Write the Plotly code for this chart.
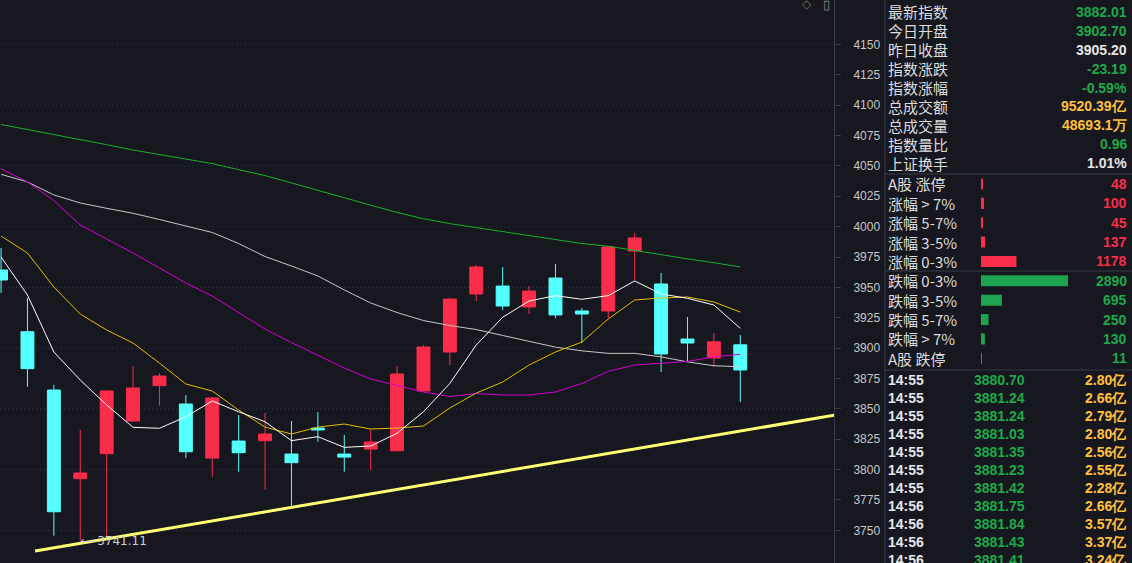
import plotly.graph_objects as go

# ---- candle data (index points, one per bar) ----
idx = list(range(29))
open_ = [3964.3, 3913.5, 3865.5, 3792.5, 3813.1, 3840.0, 3869.1, 3854.0, 3809.5, 3823.5,
         3823.8, 3812.8, 3834.2, 3812.8, 3816.9, 3815.5, 3864.7, 3896.8, 3944.6, 3951.1,
         3933.9, 3957.7, 3930.6, 3930.6, 3980.0, 3952.8, 3907.5, 3891.9, 3902.70]
high = [3982.4, 3941.3, 3869.6, 3832.6, 3865.5, 3885.3, 3879.3, 3861.4, 3859.5, 3844.9,
        3846.6, 3840.0, 3847.4, 3828.5, 3833.2, 3885.3, 3902.6, 3941.5, 3968.4, 3966.8,
        3951.1, 3969.3, 3933.0, 3983.7, 3994.8, 3961.9, 3925.6, 3912.4, 3910.8]
low = [3945.4, 3868.2, 3745.5, 3741.11, 3744.7, 3839.5, 3852.6, 3809.5, 3794.1, 3798.2,
       3783.4, 3768.9, 3822.9, 3798.2, 3799.9, 3815.0, 3864.5, 3886.1, 3938.8, 3931.4,
       3928.1, 3924.8, 3904.2, 3924.8, 3956.1, 3880.3, 3889.4, 3884.5, 3855.6]
close = [3956.1, 3883.1, 3765.3, 3797.2, 3864.7, 3867.2, 3877.0, 3814.7, 3858.9, 3813.9,
         3829.3, 3805.7, 3832.6, 3810.3, 3822.7, 3878.7, 3900.9, 3940.4, 3966.8, 3934.7,
         3947.0, 3927.3, 3928.1, 3983.3, 3990.7, 3895.2, 3904.2, 3905.20, 3882.01]

ma5 = [3975.0, 3943.7, 3896.8, 3873.7, 3853.2, 3834.8, 3834.0, 3843.5, 3856.5, 3847.6,
       3839.4, 3823.8, 3827.1, 3818.3, 3819.4, 3829.9, 3847.6, 3871.0, 3902.6, 3925.4,
       3938.8, 3943.2, 3940.2, 3943.2, 3955.3, 3944.6, 3941.0, 3935.5, 3916.3]
ma10 = [3992.3, 3978.3, 3950.3, 3928.1, 3914.9, 3904.2, 3887.7, 3870.5, 3864.7, 3849.0,
        3835.0, 3829.3, 3835.0, 3837.5, 3833.4, 3834.2, 3835.9, 3850.7, 3863.0, 3872.1,
        3886.1, 3896.8, 3905.0, 3924.0, 3939.6, 3941.3, 3942.1, 3938.0, 3929.7]
ma20 = [4047.7, 4036.8, 4021.5, 4001.4, 3989.8, 3978.3, 3966.0, 3953.6, 3942.9, 3929.3,
        3915.7, 3904.6, 3893.9, 3883.6, 3874.6, 3869.2, 3863.9, 3860.2, 3862.6, 3861.4,
        3861.4, 3863.9, 3870.9, 3880.9, 3886.1, 3887.5, 3889.0, 3892.9, 3894.9]
ma30 = [4043.1, 4036.8, 4026.1, 4019.5, 4015.1, 4011.0, 4005.9, 4000.7, 3995.2, 3986.1,
        3975.4, 3967.6, 3959.4, 3947.9, 3937.2, 3929.3, 3922.7, 3918.6, 3915.3, 3910.4,
        3905.5, 3900.8, 3897.8, 3895.7, 3895.7, 3892.8, 3888.7, 3885.5, 3884.7]
ma60 = [4084.1, 4080.1, 4076.1, 4071.9, 4067.5, 4063.1, 4059.5, 4056.0, 4051.9, 4046.9,
        4042.1, 4036.0, 4029.7, 4023.6, 4017.7, 4011.7, 4006.5, 4002.5, 3999.2, 3996.2,
        3993.2, 3989.7, 3986.1, 3983.9, 3980.4, 3976.4, 3973.5, 3970.3, 3966.8]

trend_x = [1.29, 31.6]
trend_y = [3733.0, 3845.0]
low_mark = 3741.11
low_mark_idx = 3

y_ticks = [3750, 3775, 3800, 3825, 3850, 3875, 3900, 3925, 3950, 3975,
           4000, 4025, 4050, 4075, 4100, 4125, 4150]
grid_levels = [3750, 3800, 3850, 3900, 3950, 4000, 4050, 4100, 4150]

# ---- right side panel ----
quote_labels = ["最新指数", "今日开盘", "昨日收盘", "指数涨跌", "指数涨幅",
                "总成交额", "总成交量", "指数量比", "上证换手"]
quote_values = ["3882.01", "3902.70", "3905.20", "-23.19", "-0.59%",
                "9520.39亿", "48693.1万", "0.96", "1.01%"]
quote_tone = ["down", "down", "flat", "down", "down", "amt", "amt", "down", "flat"]

breadth_labels = ["A股 涨停", "涨幅 > 7%", "涨幅 5-7%", "涨幅 3-5%", "涨幅 0-3%",
                  "跌幅 0-3%", "跌幅 3-5%", "跌幅 5-7%", "跌幅 > 7%", "A股 跌停"]
breadth_counts = [48, 100, 45, 137, 1178, 2890, 695, 250, 130, 11]
breadth_side = ["up"] * 5 + ["down"] * 5

tick_times = ["14:55"] * 7 + ["14:56"] * 4
tick_prices = [3880.70, 3881.24, 3881.24, 3881.03, 3881.35, 3881.23,
               3881.42, 3881.75, 3881.84, 3881.43, 3881.41]
tick_amounts = [2.80, 2.66, 2.79, 2.80, 2.56, 2.55, 2.28, 2.66, 3.57, 3.37, 3.24]

BG = '#17171f'
RED = '#fa2d4b'
CYAN = '#54ffff'
GREEN_TXT = '#1fa84a'
ORANGE = '#ffc03f'
WHITE_TXT = '#e6e6e6'
LABEL = '#dcdcdc'
LINE = '#363a46'
W, H = 1132, 563
tone_color = {"down": GREEN_TXT, "up": RED, "flat": WHITE_TXT, "amt": ORANGE}

fig = go.Figure()

fig.add_trace(go.Candlestick(
    x=idx, open=open_, high=high, low=low, close=close,
    increasing=dict(line=dict(color=RED, width=1), fillcolor=RED),
    decreasing=dict(line=dict(color=CYAN, width=1), fillcolor=CYAN),
    whiskerwidth=0, hoverinfo='skip', showlegend=False))

for series, col in [(ma60, '#19b02e'), (ma30, '#c8c8c8'), (ma20, '#d400d4'),
                    (ma10, '#e3c000'), (ma5, '#ffffff')]:
    fig.add_trace(go.Scatter(x=idx, y=series, mode='lines',
                             line=dict(color=col, width=1), hoverinfo='skip',
                             showlegend=False))

fig.add_trace(go.Scatter(x=trend_x, y=trend_y, mode='lines',
                         line=dict(color='#ffff73', width=3),
                         hoverinfo='skip', showlegend=False))

# breadth bars
fig.add_trace(go.Bar(
    x=breadth_counts, y=breadth_labels, orientation='h',
    marker=dict(color=[RED if s == "up" else '#1ea350' for s in breadth_side], line=dict(width=0)),
    width=0.57, xaxis='x2', yaxis='y2', hoverinfo='skip', showlegend=False))

plot_right = 834 / W
fig.update_layout(
    width=W, height=H,
    paper_bgcolor=BG, plot_bgcolor=BG,
    margin=dict(l=0, r=0, t=0, b=0),
    xaxis=dict(domain=[0, plot_right], range=[-0.04, 31.55], visible=False,
               rangeslider=dict(visible=False)),
    yaxis=dict(domain=[0, 1], anchor='x', side='right', range=[3723.1, 4186.6],
               tickvals=y_ticks, ticks='outside', ticklen=6, tickcolor=LINE,
               showline=True, linecolor=LINE, linewidth=1, showgrid=False,
               zeroline=False, ticklabelstandoff=10,
               tickfont=dict(family='Liberation Sans', size=12, color='#c8c8c8')),
    xaxis2=dict(domain=[981 / W, 1], range=[0, 5017], visible=False, anchor='y2'),
    yaxis2=dict(domain=[1 - 368 / H, 1 - 174.3 / H], anchor='x2', type='category',
                categoryorder='array', categoryarray=breadth_labels,
                range=[9.5, -0.5], visible=False),
    showlegend=False,
)

for lv in grid_levels:
    fig.add_shape(type='line', xref='x domain', yref='y', x0=0, x1=0.995, y0=lv, y1=lv,
                  line=dict(color='#3a3d48', width=1, dash='1px,3px'), layer='below')

# panel frame
fig.add_shape(type='line', xref='paper', yref='paper', x0=885 / W, x1=885 / W, y0=0, y1=1,
              line=dict(color=LINE, width=1))
for yp in [174, 271, 370]:
    fig.add_shape(type='line', xref='paper', yref='paper', x0=885 / W, x1=1, y0=1 - yp / H,
                  y1=1 - yp / H, line=dict(color=LINE, width=1))

cjk = dict(family='Noto Sans CJK SC', size=15, color=LABEL)
num = dict(family='Liberation Sans', size=14, weight=700)

for i, (lab, val, tone) in enumerate(zip(quote_labels, quote_values, quote_tone)):
    yp = 1 - (11.7 + 18.95 * i) / H
    fig.add_annotation(x=886 / W, y=yp, xref='paper', yref='paper', text=lab, showarrow=False,
                       xanchor='left', yanchor='middle', font=cjk)
    fig.add_annotation(x=1129 / W, y=yp, xref='paper', yref='paper', text=val, showarrow=False,
                       xanchor='right', yanchor='middle', font=dict(num, color=tone_color[tone]))

for lab, cnt, side in zip(breadth_labels, breadth_counts, breadth_side):
    fig.add_annotation(x=886 / W, y=lab, xref='paper', yref='y2', text=lab, showarrow=False,
                       xanchor='left', yanchor='middle', font=cjk)
    fig.add_annotation(x=1129 / W, y=lab, xref='paper', yref='y2', text=str(cnt), showarrow=False,
                       xanchor='right', yanchor='middle',
                       font=dict(num, color=RED if side == "up" else GREEN_TXT))

for i, (t, p, a) in enumerate(zip(tick_times, tick_prices, tick_amounts)):
    yp = 1 - (380 + 18 * i) / H
    fig.add_annotation(x=886 / W, y=yp, xref='paper', yref='paper', text=t, showarrow=False,
                       xanchor='left', yanchor='middle', font=dict(num, color=WHITE_TXT))
    fig.add_annotation(x=1027 / W, y=yp, xref='paper', yref='paper', text=f"{p:.2f}",
                       showarrow=False, xanchor='right', yanchor='middle',
                       font=dict(num, color=GREEN_TXT))
    fig.add_annotation(x=1129 / W, y=yp, xref='paper', yref='paper', text=f"{a:.2f}亿",
                       showarrow=False, xanchor='right', yanchor='middle',
                       font=dict(num, color=ORANGE))

fig.add_annotation(x=low_mark_idx, y=low_mark, xref='x', yref='y', text="⟵" + f"{low_mark:.2f}",
                   showarrow=False, xanchor='left', yanchor='middle', xshift=-2,
                   font=dict(family='DejaVu Sans', size=12, color='#d0d0d0'))

fig.add_annotation(x=807 / W, y=1 - 4 / H, xref='paper', yref='paper', text="◇", showarrow=False,
                   xanchor='center', yanchor='middle', font=dict(size=12, color='#6a6a6a'))
fig.add_annotation(x=826 / W, y=1 - 4 / H, xref='paper', yref='paper', text="▯", showarrow=False,
                   xanchor='center', yanchor='middle', font=dict(size=13, color='#8a8a8a'))

fig.write_html("out.html", config={'displayModeBar': False},
               post_script="document.body.style.margin='0';")
